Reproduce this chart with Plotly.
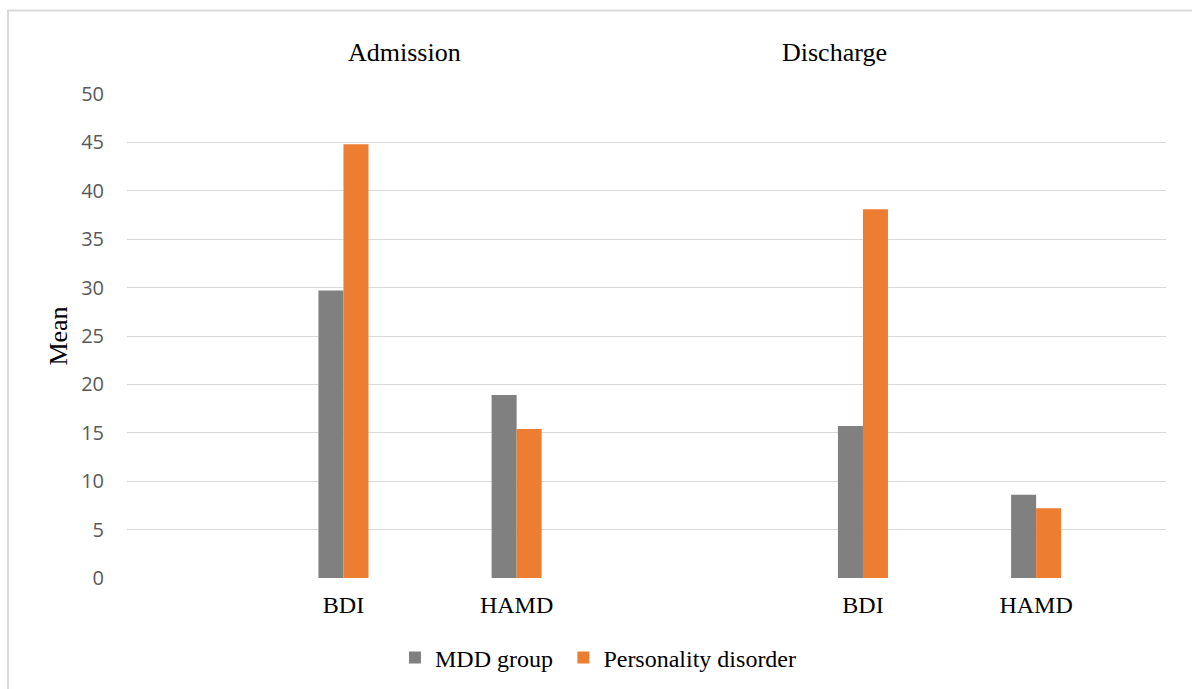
import plotly.graph_objects as go

# Slot layout along the category axis: 12 evenly spaced slots, bars occupy four of them
slot_positions = [2, 4, 8, 10]
measure_labels = ["BDI", "HAMD", "BDI", "HAMD"]

mdd_group = [29.7, 18.9, 15.7, 8.6]
personality_disorder = [44.8, 15.4, 38.1, 7.2]

phase_labels = ["Admission", "Discharge"]
phase_positions = [2.7, 7.67]

y_ticks = [0, 5, 10, 15, 20, 25, 30, 35, 40, 45, 50]

GRAY = "#808080"
ORANGE = "#ED7D31"
SERIF = "Liberation Serif, Times New Roman, serif"
SANS = "Open Sans, Lato, sans-serif"

fig = go.Figure()
fig.add_trace(go.Bar(x=slot_positions, y=mdd_group, name="MDD group",
                     marker=dict(color=GRAY, line=dict(width=0)), legend="legend"))
fig.add_trace(go.Bar(x=slot_positions, y=personality_disorder, name="Personality disorder",
                     marker=dict(color=ORANGE, line=dict(width=0)), legend="legend2"))

for label, pos in zip(phase_labels, phase_positions):
    fig.add_annotation(x=pos, xref="x", y=1.0 + 41 / 484, yref="paper",
                       text=label, showarrow=False,
                       font=dict(family=SERIF, size=26, color="#000000"),
                       xanchor="center", yanchor="middle")

# Outer chart frame
fig.add_shape(type="rect", xref="paper", yref="paper",
              x0=(8 - 127) / 1039, x1=1.1, y0=-0.4, y1=1 + (94 - 10.5) / 484,
              line=dict(color="#D9D9D9", width=2), fillcolor="rgba(0,0,0,0)",
              layer="below")

legend_style = dict(orientation="h", xanchor="left", y=-(658 - 578) / 484,
                    yanchor="middle", itemwidth=30, bgcolor="rgba(0,0,0,0)",
                    font=dict(family=SERIF, size=24, color="#000000"))

fig.update_layout(
    width=1192, height=689,
    margin=dict(l=127, r=26, t=94, b=111, autoexpand=False),
    paper_bgcolor="white", plot_bgcolor="white",
    barmode="group", bargap=0.711, bargroupgap=0,
    showlegend=True,
    legend=dict(x=0.2579, **legend_style),
    legend2=dict(x=0.42, **legend_style),
    xaxis=dict(range=[-0.5, 11.5], tickmode="array", tickvals=slot_positions,
               ticktext=measure_labels, showgrid=False, zeroline=False,
               showline=False, ticks="", ticklabelstandoff=10, automargin=False,
               tickfont=dict(family=SERIF, size=24, color="#000000")),
    yaxis=dict(range=[0, 50], tickmode="array", tickvals=y_ticks,
               showgrid=True, gridcolor="#D9D9D9", gridwidth=1.3,
               zeroline=False, showline=False, ticks="", automargin=False,
               ticklabelstandoff=22,
               tickfont=dict(family=SANS, size=20, color="#595959"),
               title=dict(text="Mean", standoff=6,
                          font=dict(family=SERIF, size=26, color="#000000"))),
)

fig.write_html("out.html")
